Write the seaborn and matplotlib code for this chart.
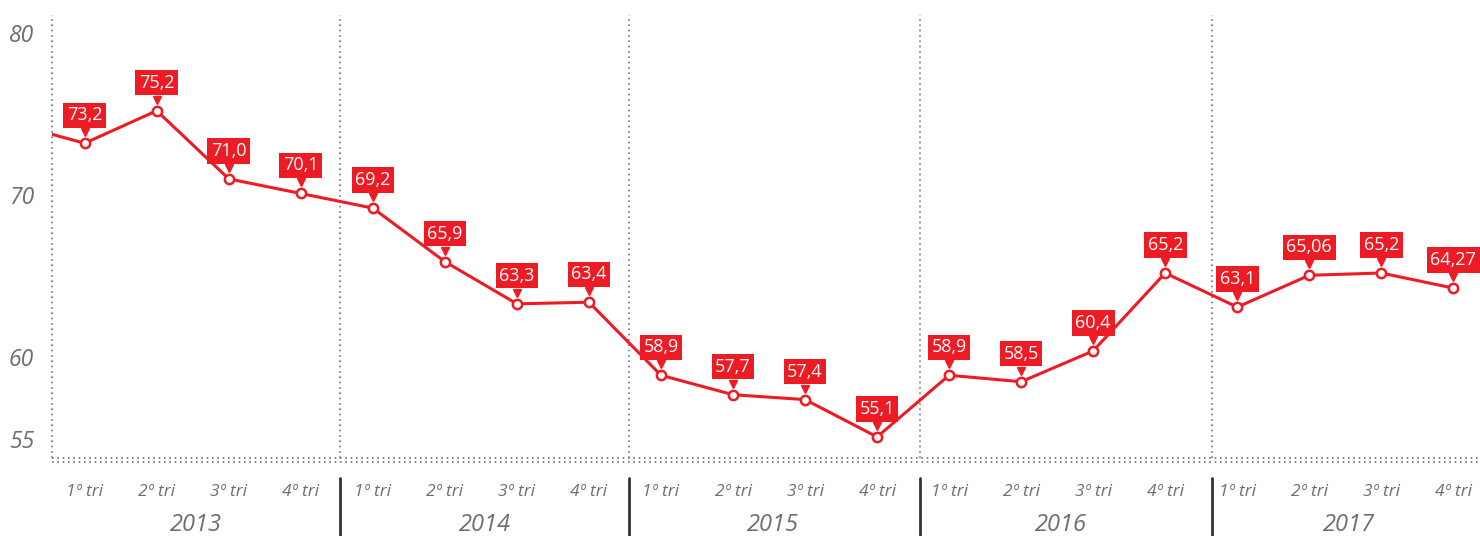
import numpy as np
import pandas as pd
import matplotlib
matplotlib.use("Agg")
import matplotlib.pyplot as plt
import matplotlib.transforms as mtransforms
import seaborn as sns

# === DATI ===
anos = ["2013", "2014", "2015", "2016", "2017"]
trimestres = ["1º tri", "2º tri", "3º tri", "4º tri"]
valores = [73.2, 75.2, 71.0, 70.1,
           69.2, 65.9, 63.3, 63.4,
           58.9, 57.7, 57.4, 55.1,
           58.9, 58.5, 60.4, 65.2,
           63.1, 65.06, 65.2, 64.27]
rotulos = ["73,2", "75,2", "71,0", "70,1",
           "69,2", "65,9", "63,3", "63,4",
           "58,9", "57,7", "57,4", "55,1",
           "58,9", "58,5", "60,4", "65,2",
           "63,1", "65,06", "65,2", "64,27"]
valor_anterior = 74.4  # 4º tri 2012, fora do gráfico
yticks = [55, 60, 70, 80]

VERMELHO = "#ED1C24"
CINZA = "#6E6E6E"

sns.set_style("white")
plt.rcParams["font.family"] = ["Open Sans", "DejaVu Sans"]

df = pd.DataFrame({"pos": np.arange(len(valores)), "valor": valores})
df_linha = pd.DataFrame({"pos": np.arange(-1, len(valores)),
                         "valor": [valor_anterior] + valores})

W, H = 1480, 536
fig = plt.figure(figsize=(W / 100, H / 100), dpi=100)
ax_left, ax_top, ax_bot = 52, 15, 458
ax = fig.add_axes([ax_left / W, (H - ax_bot) / H, (W - ax_left) / W, (ax_bot - ax_top) / H])

sns.lineplot(data=df_linha, x="pos", y="valor", color=VERMELHO, linewidth=2.2, ax=ax, zorder=3)
sns.scatterplot(data=df, x="pos", y="valor", s=45, color="white", edgecolor=VERMELHO,
                linewidth=1.8, ax=ax, zorder=4)

ax.set_xlim(-0.454, 19.37)
ax.set_ylim(53.8, 81.1)

# rótulos vermelhos
seta = mtransforms.offset_copy(ax.transData, fig=fig, x=0, y=11, units="dots")
for x, v, r in zip(df["pos"], df["valor"], rotulos):
    ax.annotate(r, (x, v), xytext=(0, 28), textcoords="offset pixels", ha="center",
                va="center", color="white", fontsize=13,
                bbox=dict(boxstyle="square,pad=0.2", fc=VERMELHO, ec="none"), zorder=5)
    ax.plot([x], [v], marker="v", color=VERMELHO, markersize=6, transform=seta, zorder=5)

# grade e eixos
for s in ax.spines.values():
    s.set_visible(False)
grade = dict(color="#777777", linestyle=(0, (1, 2.2)), linewidth=1.2, clip_on=False)
ax.plot([0, 0], [0, 1], transform=ax.transAxes, **grade)
for b in [3.55, 7.55, 11.6, 15.65]:
    ax.axvline(b, **grade)
ax.plot([0, 1], [0, 0], transform=ax.transAxes, **grade)
ax.plot([0, 1], [-0.009, -0.009], transform=ax.transAxes, **grade)

ax.set_yticks(yticks)
ax.set_yticklabels([str(t) for t in yticks], fontsize=16.5, color=CINZA, style="italic")
ax.tick_params(axis="y", length=0, pad=13)

ax.set_xticks(df["pos"])
ax.set_xticklabels(trimestres * len(anos), fontsize=12.5, color=CINZA, style="italic")
ax.tick_params(axis="x", length=0, pad=19)
ax.set_xlabel("")
ax.set_ylabel("")

trans = mtransforms.blended_transform_factory(ax.transData, ax.transAxes)
for i, ano in enumerate(anos):
    ax.text(i * 4 + 1.55, -0.152, ano, transform=trans, ha="center", va="center",
            fontsize=17, color=CINZA, style="italic")
for b in [3.55, 7.55, 11.6, 15.65]:
    ax.plot([b, b], [-0.045, -0.2], transform=trans, color="#333333", linewidth=2,
            clip_on=False)

fig.savefig("out.png", dpi=100)
